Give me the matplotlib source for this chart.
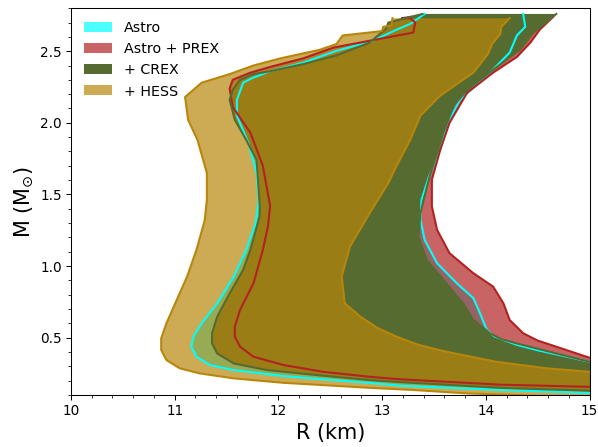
import numpy as np
import matplotlib.pyplot as plt
from matplotlib.ticker import MultipleLocator

plt.rcParams['font.family'] = ['DejaVu Sans']

# ---- band boundaries (R in km, M in Msun) ----
# left edge listed bottom -> top, right edge listed top -> bottom
ASTRO_L_R = [15.5, 15.0, 14.14, 13.17, 12.88, 12.53, 12.05, 11.57, 11.34, 11.21, 11.16, 11.18, 11.26,
             11.41, 11.57, 11.69, 11.78, 11.81, 11.79, 11.71, 11.60, 11.60, 11.66, 11.74, 11.92,
             12.24, 12.55, 12.90, 13.14, 13.27, 13.41]
ASTRO_L_M = [0.10, 0.115, 0.135, 0.165, 0.185, 0.204, 0.232, 0.274, 0.309, 0.367, 0.437, 0.507, 0.60,
             0.74, 0.927, 1.113, 1.30, 1.46, 1.65, 1.86, 2.05, 2.16, 2.28, 2.31, 2.36,
             2.42, 2.50, 2.57, 2.65, 2.69, 2.76]
ASTRO_R_R = [14.36, 14.38, 14.30, 14.23, 14.04, 13.75, 13.62, 13.56, 13.45, 13.38, 13.37, 13.41,
             13.53, 13.72, 13.88, 13.93, 14.01, 14.08, 14.17, 14.30, 14.49, 15.0, 15.5]
ASTRO_R_M = [2.76, 2.67, 2.61, 2.49, 2.35, 2.16, 1.98, 1.81, 1.62, 1.463, 1.323, 1.183,
             1.02, 0.88, 0.776, 0.694, 0.554, 0.51, 0.484, 0.45, 0.414, 0.332, 0.30]

PREX_L_R = [15.5, 15.0, 14.14, 13.17, 12.88, 12.43, 12.05, 11.76, 11.63, 11.58, 11.58, 11.63, 11.76,
            11.85, 11.90, 11.92, 11.85, 11.73, 11.56, 11.53, 11.56, 11.73, 11.92, 12.24, 12.53,
            13.30, 13.32, 13.27, 13.19, 13.28]
PREX_L_M = [0.14, 0.157, 0.172, 0.21, 0.227, 0.262, 0.309, 0.367, 0.437, 0.507, 0.577, 0.694, 0.88,
            1.113, 1.28, 1.42, 1.70, 1.93, 2.11, 2.24, 2.30, 2.35, 2.39, 2.45, 2.525,
            2.63, 2.70, 2.73, 2.73, 2.74]
PREX_R_R = [14.65, 14.52, 14.43, 14.30, 14.07, 13.82, 13.65, 13.56, 13.48, 13.48, 13.53, 13.65,
            13.88, 14.07, 14.17, 14.23, 14.36, 14.50, 14.68, 15.0, 15.5]
PREX_R_M = [2.74, 2.65, 2.56, 2.46, 2.35, 2.21, 2.00, 1.81, 1.603, 1.416, 1.253, 1.09,
            0.95, 0.857, 0.74, 0.624, 0.531, 0.48, 0.437, 0.36, 0.33]

CREX_L_R = [15.5, 15.0, 14.14, 13.17, 12.88, 12.37, 11.89, 11.57, 11.41, 11.36, 11.36, 11.41, 11.53,
            11.66, 11.73, 11.82, 11.82, 11.79, 11.69, 11.58, 11.53, 11.56, 11.63, 11.76, 11.92,
            12.24, 12.56, 12.88, 13.04, 13.06, 13.39]
CREX_L_M = [0.12, 0.13, 0.15, 0.19, 0.204, 0.239, 0.274, 0.32, 0.39, 0.46, 0.53, 0.647, 0.81,
            0.973, 1.113, 1.35, 1.42, 1.74, 1.88, 2.02, 2.16, 2.23, 2.30, 2.34, 2.36,
            2.41, 2.47, 2.56, 2.66, 2.70, 2.76]
CREX_R_R = [14.68, 14.46, 14.33, 14.07, 13.82, 13.69, 13.59, 13.53, 13.46, 13.40, 13.37, 13.35,
            13.43, 13.59, 13.78, 13.88, 14.04, 14.15, 14.30, 14.68, 15.0, 15.5]
CREX_R_M = [2.76, 2.63, 2.51, 2.37, 2.23, 2.12, 1.93, 1.79, 1.63, 1.46, 1.37, 1.206,
            1.043, 0.904, 0.74, 0.624, 0.531, 0.49, 0.46, 0.39, 0.332, 0.30]

HESS_L_R = [15.5, 14.5, 13.82, 13.3, 12.88, 12.53, 12.05, 11.57, 11.24, 11.05, 10.92, 10.87, 10.87,
            10.92, 11.02, 11.12, 11.21, 11.29, 11.31, 11.31, 11.22, 11.13, 11.10, 11.26, 11.53,
            11.76, 12.02, 12.40, 12.56, 12.62, 13.0, 13.01, 13.09, 13.10]
HESS_L_M = [0.09, 0.095, 0.111, 0.135, 0.15, 0.165, 0.185, 0.216, 0.251, 0.286, 0.344, 0.414, 0.496,
            0.60, 0.764, 0.927, 1.113, 1.32, 1.46, 1.65, 1.88, 2.02, 2.18, 2.28, 2.34,
            2.40, 2.45, 2.51, 2.55, 2.61, 2.64, 2.67, 2.68, 2.73]
HESS_R_R = [14.23, 14.15, 14.14, 14.06, 14.02, 13.88, 13.56, 13.37, 13.27, 13.14, 13.06, 12.88,
            12.69, 12.61, 12.64, 12.79, 12.95, 13.14, 13.35, 13.62, 14.10, 14.59, 15.0, 15.5]
HESS_R_M = [2.73, 2.67, 2.62, 2.55, 2.48, 2.35, 2.19, 2.05, 1.88, 1.70, 1.58, 1.37,
            1.136, 0.927, 0.74, 0.647, 0.57, 0.507, 0.45, 0.402, 0.332, 0.286, 0.262, 0.24]

bands = [
    ('Astro', ASTRO_L_R, ASTRO_L_M, ASTRO_R_R, ASTRO_R_M, 'cyan', 0.7),
    ('Astro + PREX', PREX_L_R, PREX_L_M, PREX_R_R, PREX_R_M, 'firebrick', 0.7),
    ('+ CREX', CREX_L_R, CREX_L_M, CREX_R_R, CREX_R_M, 'darkolivegreen', 1.0),
    ('+ HESS', HESS_L_R, HESS_L_M, HESS_R_R, HESS_R_M, 'darkgoldenrod', 0.7),
]

fig = plt.figure(figsize=(6.4, 4.785), dpi=93.44)
ax = fig.add_axes([0.1187, 0.1163, 0.8671, 0.8651])

# fills first
for label, lr, lm, rr, rm, col, alpha in bands:
    R = np.concatenate([lr, rr])
    M = np.concatenate([lm, rm])
    ax.fill(R, M, color=col, alpha=alpha, lw=0, label=label)

# edges on top of all fills (open at the top)
for label, lr, lm, rr, rm, col, alpha in bands:
    ax.plot(lr, lm, color=col, lw=1.6, solid_joinstyle='round')
    ax.plot(rr, rm, color=col, lw=1.6, solid_joinstyle='round')

ax.set_xlim(10, 15)
ax.set_ylim(0.1, 2.8)
ax.xaxis.set_major_locator(MultipleLocator(1))
ax.xaxis.set_minor_locator(MultipleLocator(0.2))
ax.yaxis.set_major_locator(MultipleLocator(0.5))
ax.yaxis.set_minor_locator(MultipleLocator(0.1))
ax.tick_params(labelsize=10.5)

ax.set_xlabel('R (km)', fontsize=16)
ax.set_ylabel(r'M (M$_{\odot}$)', fontsize=16)

ax.legend(loc='upper left', frameon=False, fontsize=11)

fig.savefig('out.png', dpi=93.44)
